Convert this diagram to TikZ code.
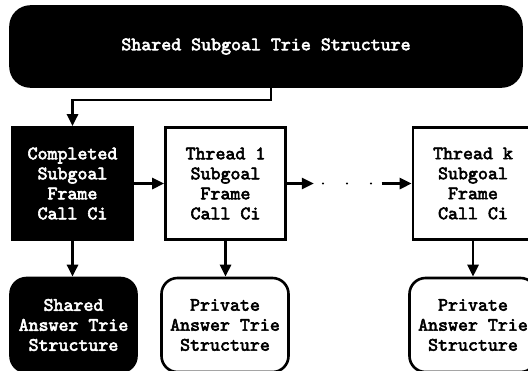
\documentclass[tikz,border=0pt]{standalone}
\usepackage{fontspec}
\newfontfamily\courfont{lmmono10-regular.otf}[FakeBold=3]
\usetikzlibrary{arrows.meta}

\begin{document}
\begin{tikzpicture}[x=1pt,y=-1pt,
    box/.style={draw, line width=2.6pt, align=center, inner sep=0pt,
        font=\courfont\fontsize{19}{20}\selectfont},
    darkbox/.style={box, fill=black, text=white},
    arr/.style={line width=2.6pt, -{Triangle[length=12pt,width=11pt]}}]
    \clip (0,0) rectangle (528,370);

    \node[darkbox, rounded corners=20pt, minimum width=511pt, minimum height=80pt] (trie) at (266,46.5) {Shared Subgoal Trie Structure};

    \node[darkbox, minimum width=120pt, minimum height=112pt] (comp) at (72.5,183.5) {Completed\\Subgoal\\Frame\\Call Ci};
    \node[box, minimum width=120pt, minimum height=112pt] (thr1) at (225.5,183.5) {Thread 1\\Subgoal\\Frame\\Call Ci};
    \node[box, minimum width=120pt, minimum height=112pt] (thrk) at (473,183.5) {Thread k\\Subgoal\\Frame\\Call Ci};

    \node[darkbox, rounded corners=16pt, minimum width=126pt, minimum height=94pt] (shans) at (73.5,325) {Shared\\Answer Trie\\Structure};
    \node[box, rounded corners=16pt, minimum width=127pt, minimum height=94pt] (pans1) at (225,325) {Private\\Answer Trie\\Structure};
    \node[box, rounded corners=16pt, minimum width=127pt, minimum height=94pt] (pansk) at (473,325) {Private\\Answer Trie\\Structure};

    % from the subgoal trie down to the completed frame
    \coordinate (bend) at (271,100);
    \draw[arr] (bend |- trie.south) -- (bend) -| (comp.north);

    \draw[arr] (comp) -- (thr1);
    \coordinate (dotl) at ([xshift=27pt]thr1.east);
    \coordinate (dotr) at ([xshift=-30pt]thrk.west);
    \draw[arr] (thr1.east) -- (dotl);
    \foreach \x in {323,347,371}
        \fill (\x,183.5) circle (1.2);
    \draw[arr] (dotr) -- (thrk.west);

    \draw[arr] (comp.south) -- (comp.south |- shans.north);
    \draw[arr] (thr1.south) -- (thr1.south |- pans1.north);
    \draw[arr] (thrk.south) -- (thrk.south |- pansk.north);
\end{tikzpicture}
\end{document}
